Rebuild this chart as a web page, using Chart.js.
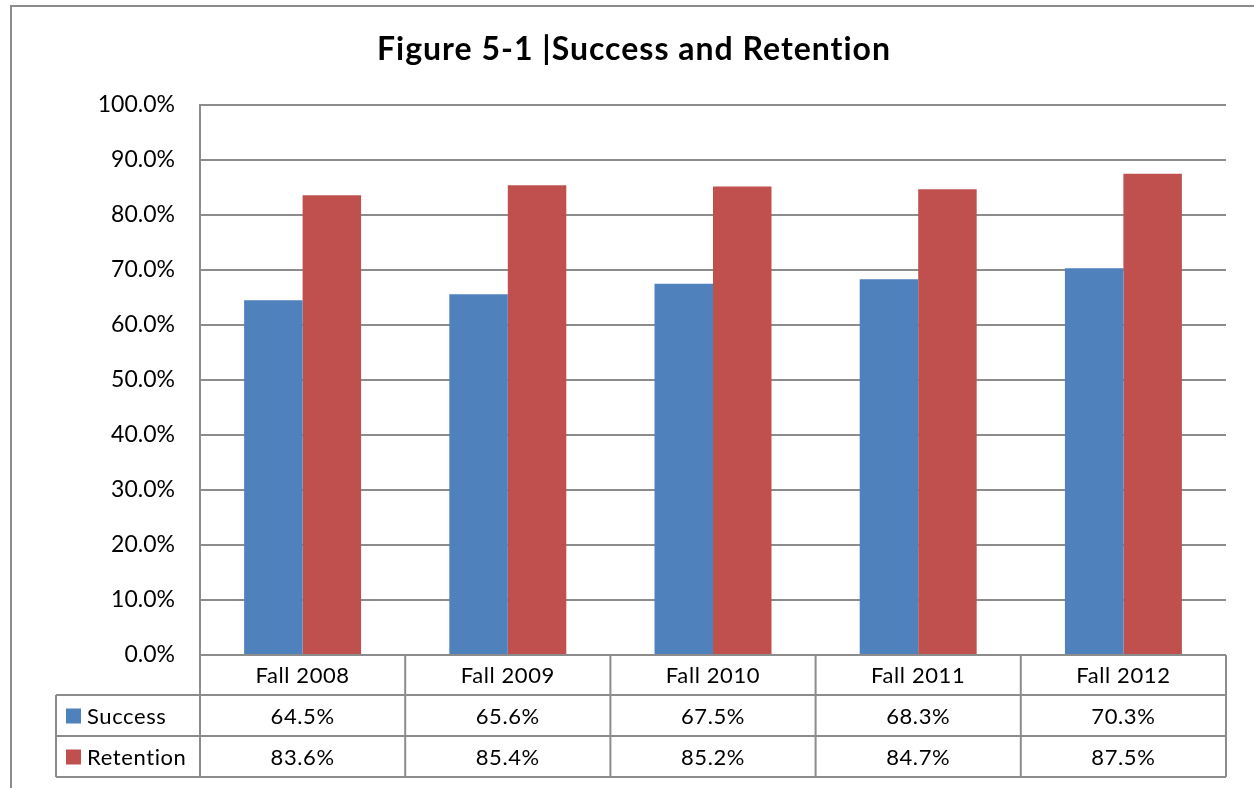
<!DOCTYPE html>
<html>
<head>
<meta charset="utf-8">
<script src="https://cdn.jsdelivr.net/npm/chart.js@4"></script>
<style>
  html, body { margin: 0; padding: 0; background: #fff; }
  canvas { display: block; }
</style>
</head>
<body>
<canvas id="cFig" width="1254" height="788"></canvas>
<script>
// Figure 5-1 — Success and Retention (bar chart + data table)
const categories = ['Fall 2008', 'Fall 2009', 'Fall 2010', 'Fall 2011', 'Fall 2012'];
const successVals = [64.5, 65.6, 67.5, 68.3, 70.3];
const retentionVals = [83.6, 85.4, 85.2, 84.7, 87.5];
const yTickStep = 10;

const FONT = 'Lato, "Open Sans", sans-serif';
const GRID = '#8c8c8c';
const BLUE = '#4F81BD';
const RED = '#C0504D';

// marco, título y tabla de datos debajo del eje
const figPlugin = {
  id: 'figTable',
  beforeDraw(chart) {
    const ctx = chart.ctx;
    ctx.save();
    ctx.fillStyle = '#fff';
    ctx.fillRect(0, 0, chart.width, chart.height);
    ctx.strokeStyle = '#8c8c8c';
    ctx.lineWidth = 2;
    ctx.strokeRect(11, 6, chart.width + 20, chart.height + 20);
    ctx.fillStyle = '#000';
    ctx.font = 'bold 32px ' + FONT;
    ctx.letterSpacing = '1px';
    ctx.textAlign = 'center';
    ctx.textBaseline = 'alphabetic';
    ctx.fillText('Figure 5-1 |Success and Retention', 634, 60);
    ctx.restore();
  },
  afterDraw(chart) {
    const { ctx, chartArea: a, scales: { x } } = chart;
    const half = (a.right - a.left) / categories.length / 2;
    const rows = [a.bottom, a.bottom + 40, a.bottom + 81, a.bottom + 122];
    const legL = 56;
    ctx.save();
    ctx.strokeStyle = GRID;
    ctx.lineWidth = 2;
    ctx.beginPath();
    // líneas horizontales
    ctx.moveTo(a.left, rows[0]); ctx.lineTo(a.right, rows[0]);
    for (let r = 1; r < rows.length; r++) { ctx.moveTo(legL, rows[r]); ctx.lineTo(a.right, rows[r]); }
    // verticales
    ctx.moveTo(legL, rows[1]); ctx.lineTo(legL, rows[3]);
    for (let i = 0; i <= categories.length; i++) {
      const px = i < categories.length ? x.getPixelForValue(i) - half : x.getPixelForValue(i - 1) + half;
      ctx.moveTo(px, rows[0]); ctx.lineTo(px, rows[3]);
    }
    ctx.stroke();

    ctx.fillStyle = '#000';
    ctx.font = '22px ' + FONT;
    ctx.letterSpacing = '0.6px';
    ctx.textAlign = 'center';
    ctx.textBaseline = 'middle';
    categories.forEach((c, i) => ctx.fillText(c, x.getPixelForValue(i), (rows[0] + rows[1]) / 2 + 1));
    chart.data.datasets.forEach((ds, r) => {
      const cy = (rows[r + 1] + rows[r + 2]) / 2 + 1;
      ds.data.forEach((v, i) => {
        ctx.textAlign = 'center';
        ctx.fillStyle = '#000';
        ctx.fillText(v.toFixed(1) + '%', x.getPixelForValue(i), cy);
      });
      ctx.fillStyle = ds.backgroundColor;
      ctx.fillRect(66, cy - 8, 15, 15);
      ctx.fillStyle = '#000';
      ctx.textAlign = 'left';
      ctx.fillText(ds.label, 87, cy);
    });
    ctx.restore();
  }
};

new Chart(document.getElementById('cFig').getContext('2d'), {
  type: 'bar',
  data: {
    labels: categories,
    datasets: [
      { label: 'Success', data: successVals, backgroundColor: BLUE, categoryPercentage: 0.57, barPercentage: 1.0 },
      { label: 'Retention', data: retentionVals, backgroundColor: RED, categoryPercentage: 0.57, barPercentage: 1.0 }
    ]
  },
  options: {
    responsive: false, animation: false,
    layout: { padding: { top: 105, right: 28, bottom: 133, left: 0 } },
    plugins: { legend: { display: false }, tooltip: { enabled: false }, title: { display: false } },
    scales: {
      x: { display: false },
      y: {
        min: 0, max: 100,
        afterFit: s => { s.width = 200; },
        border: { display: true, color: GRID, width: 2 },
        grid: { color: GRID, lineWidth: 2, drawTicks: false },
        ticks: {
          stepSize: yTickStep, padding: 25, color: '#000',
          font: { family: FONT, size: 23 },
          callback: v => v.toFixed(1) + '%'
        }
      }
    }
  },
  plugins: [figPlugin]
});
</script>
</body>
</html>
